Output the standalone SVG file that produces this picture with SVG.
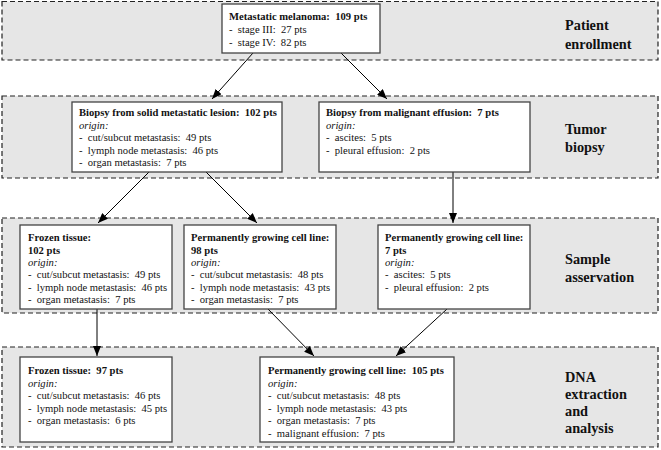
<svg xmlns="http://www.w3.org/2000/svg" width="661" height="450" viewBox="0 0 661 450">
<style>
.band{fill:#e6e6e6;stroke:#222;stroke-width:1.2;stroke-dasharray:5,3}
.box{fill:#fff;stroke:#444;stroke-width:1.3}
text{font-family:"Liberation Serif","Times New Roman",serif;font-size:10.6px;fill:#111;white-space:pre}
.b{font-weight:bold}
.i{font-style:italic}
.lab{font-size:14.3px;font-weight:bold}
.con line{stroke:#000;stroke-width:1;marker-end:url(#ah)}
</style>
<defs>
<marker id="ah" markerUnits="userSpaceOnUse" markerWidth="10" markerHeight="8" refX="10" refY="4" orient="auto">
<path d="M0,0 L10,4 L0,8 Z" fill="#000"/>
</marker>
</defs>
<g id="bands">
<rect class="band" x="2" y="1.5" width="656" height="58.5"/>
<rect class="band" x="2" y="96" width="656" height="82"/>
<rect class="band" x="2" y="218" width="656" height="95"/>
<rect class="band" x="2" y="347" width="656" height="100"/>
</g>
<g id="stage-labels">
<text class="lab" x="565" y="30">Patient</text>
<text class="lab" x="565" y="48.5">enrollment</text>
<text class="lab" x="565" y="134">Tumor</text>
<text class="lab" x="565" y="152">biopsy</text>
<text class="lab" x="565" y="264">Sample</text>
<text class="lab" x="565" y="282">asservation</text>
<text class="lab" x="565" y="382">DNA</text>
<text class="lab" x="565" y="399">extraction</text>
<text class="lab" x="565" y="416">and</text>
<text class="lab" x="565" y="433">analysis</text>
</g>
<g class="con" id="connectors">
<line x1="253" y1="53" x2="212" y2="99"/>
<line x1="341" y1="53" x2="387" y2="99"/>
<line x1="149" y1="172" x2="98" y2="223"/>
<line x1="206" y1="172" x2="257" y2="223"/>
<line x1="453" y1="172" x2="453" y2="223"/>
<line x1="97" y1="309" x2="97" y2="356"/>
<line x1="268" y1="309" x2="314" y2="356"/>
<line x1="447" y1="309" x2="396" y2="356"/>
</g>
<g id="n1">
<rect class="box" x="222" y="4" width="158" height="49"/>
<text class="b" x="229" y="20">Metastatic melanoma:  109 pts</text>
<text x="229" y="33">-  stage III:  27 pts</text>
<text x="229" y="46">-  stage IV:  82 pts</text>
</g>
<g id="n2a">
<rect class="box" x="72" y="102" width="210" height="70"/>
<text class="b" x="79" y="116">Biopsy from solid metastatic lesion:  102 pts</text>
<text class="i" x="79" y="128.5">origin:</text>
<text x="79" y="141">-  cut/subcut metastasis:  49 pts</text>
<text x="79" y="153.5">-  lymph node metastasis:  46 pts</text>
<text x="79" y="166">-  organ metastasis:  7 pts</text>
</g>
<g id="n2b">
<rect class="box" x="319" y="102" width="211" height="70"/>
<text class="b" x="326" y="116">Biopsy from malignant effusion:  7 pts</text>
<text class="i" x="326" y="128.5">origin:</text>
<text x="326" y="141">-  ascites:  5 pts</text>
<text x="326" y="153.5">-  pleural effusion:  2 pts</text>
</g>
<g id="n3a">
<rect class="box" x="20" y="225" width="152" height="84"/>
<text class="b" x="28" y="241">Frozen tissue:</text>
<text class="b" x="28" y="253.5">102 pts</text>
<text class="i" x="28" y="266">origin:</text>
<text x="28" y="278">-  cut/subcut metastasis:  49 pts</text>
<text x="28" y="290.5">-  lymph node metastasis:  46 pts</text>
<text x="28" y="303">-  organ metastasis:  7 pts</text>
</g>
<g id="n3b">
<rect class="box" x="184" y="225" width="152" height="84"/>
<text class="b" x="191" y="241">Permanently growing cell line:</text>
<text class="b" x="191" y="253.5">98 pts</text>
<text class="i" x="191" y="266">origin:</text>
<text x="191" y="278">-  cut/subcut metastasis:  48 pts</text>
<text x="191" y="290.5">-  lymph node metastasis:  43 pts</text>
<text x="191" y="303">-  organ metastasis:  7 pts</text>
</g>
<g id="n3c">
<rect class="box" x="378" y="225" width="152" height="84"/>
<text class="b" x="385" y="241">Permanently growing cell line:</text>
<text class="b" x="385" y="253.5">7 pts</text>
<text class="i" x="385" y="266">origin:</text>
<text x="385" y="278">-  ascites:  5 pts</text>
<text x="385" y="290.5">-  pleural effusion:  2 pts</text>
</g>
<g id="n4a">
<rect class="box" x="20" y="357" width="152" height="85"/>
<text class="b" x="28" y="374">Frozen tissue:  97 pts</text>
<text class="i" x="28" y="386.5">origin:</text>
<text x="28" y="399">-  cut/subcut metastasis:  46 pts</text>
<text x="28" y="411.5">-  lymph node metastasis:  45 pts</text>
<text x="28" y="424">-  organ metastasis:  6 pts</text>
</g>
<g id="n4b">
<rect class="box" x="260" y="357" width="194" height="85"/>
<text class="b" x="268" y="374">Permanently growing cell line:  105 pts</text>
<text class="i" x="268" y="386.5">origin:</text>
<text x="268" y="399">-  cut/subcut metastasis:  48 pts</text>
<text x="268" y="411.5">-  lymph node metastasis:  43 pts</text>
<text x="268" y="424">-  organ metastasis:  7 pts</text>
<text x="268" y="436.5">-  malignant effusion:  7 pts</text>
</g>
</svg>
